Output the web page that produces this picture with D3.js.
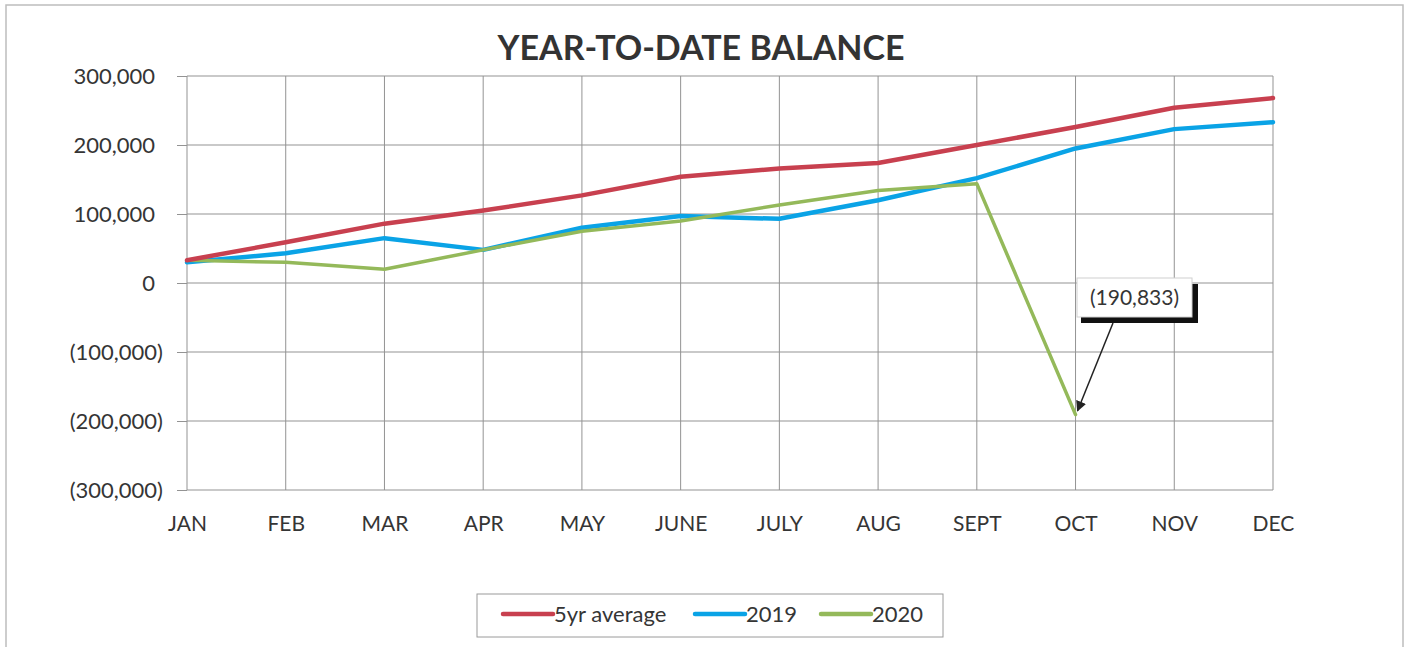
<!DOCTYPE html>
<html>
<head>
<meta charset="utf-8">
<script src="https://cdn.jsdelivr.net/npm/d3@7"></script>
<style>
  html, body { margin: 0; padding: 0; background: #fff; }
  svg { display: block; }
</style>
</head>
<body>
<svg id="chart" width="1411" height="647"></svg>
<script>
var months = ['JAN', 'FEB', 'MAR', 'APR', 'MAY', 'JUNE', 'JULY', 'AUG', 'SEPT', 'OCT', 'NOV', 'DEC'];
var avg5yr = [33000, 59000, 86000, 105000, 127000, 154000, 166000, 174000, 200000, 226000, 254000, 268000];
var y2019 = [30000, 43000, 65000, 48000, 80000, 97000, 93000, 120000, 152000, 195000, 223000, 233000];
var y2020 = [33000, 30000, 20000, 48000, 75000, 90000, 113000, 134000, 144000, -190833, null, null];
var yTicks = [-300000, -200000, -100000, 0, 100000, 200000, 300000];
var seriesNames = ['5yr average', '2019', '2020'];
var calloutIndex = 9;
var calloutLabel = '(190,833)';

var colors = ['#c8404f', '#0aa3e6', '#94b95a'];
var font = 'Lato, Calibri, "Open Sans", sans-serif';
var textColor = '#353535';

var svg = d3.select('#chart');

// outer chart frame
svg.append('rect')
  .attr('x', 6).attr('y', 5)
  .attr('width', 1397).attr('height', 660)
  .attr('fill', 'none')
  .attr('stroke', '#bdbdbd')
  .attr('stroke-width', 1.5);

var x = d3.scalePoint().domain(months).range([187, 1273]);
var y = d3.scaleLinear().domain([-300000, 300000]).range([490, 76]);

var grid = svg.append('g').attr('class', 'grid');
grid.selectAll('line.h')
  .data(yTicks)
  .enter().append('line')
  .attr('class', 'h')
  .attr('x1', x('JAN')).attr('x2', x('DEC'))
  .attr('y1', function (d) { return y(d); })
  .attr('y2', function (d) { return y(d); })
  .attr('stroke', '#939393')
  .attr('stroke-width', 1);
grid.selectAll('line.v')
  .data(months)
  .enter().append('line')
  .attr('class', 'v')
  .attr('x1', function (d) { return x(d); })
  .attr('x2', function (d) { return x(d); })
  .attr('y1', y(300000)).attr('y2', y(-300000))
  .attr('stroke', '#939393')
  .attr('stroke-width', 1);

var fmt = d3.format(',');
var yAxis = d3.axisLeft(y)
  .tickValues(yTicks)
  .tickSize(10)
  .tickPadding(14)
  .tickFormat(function (v) { return v < 0 ? '(' + fmt(-v) + ')' : fmt(v); });

var yg = svg.append('g')
  .attr('transform', 'translate(' + x('JAN') + ',0)')
  .call(yAxis);
yg.select('.domain').remove();
yg.selectAll('.tick line').attr('stroke', '#939393');
yg.selectAll('.tick text')
  .attr('dx', function (d) { return d < 0 ? 0 : -8; })
  .attr('fill', textColor)
  .attr('font-size', '22px')
  .attr('font-family', font);

var xAxis = d3.axisBottom(x).tickSize(0).tickPadding(26);
var xg = svg.append('g')
  .attr('transform', 'translate(0,' + y(-300000) + ')')
  .call(xAxis);
xg.select('.domain').remove();
xg.selectAll('.tick text')
  .attr('fill', textColor)
  .attr('font-size', '21px')
  .attr('font-family', font);

// series lines: 2019 first, then 2020, average on top
var allSeries = [avg5yr, y2019, y2020];
var line = d3.line()
  .defined(function (d) { return d != null; })
  .x(function (d, i) { return x(months[i]); })
  .y(function (d) { return y(d); });

[1, 2, 0].forEach(function (s) {
  svg.append('path')
    .attr('d', line(allSeries[s]))
    .attr('fill', 'none')
    .attr('stroke', colors[s])
    .attr('stroke-width', s === 2 ? 3.5 : 4.5)
    .attr('stroke-linejoin', 'round')
    .attr('stroke-linecap', 'round');
});

// title
svg.append('text')
  .attr('x', 701)
  .attr('y', 60)
  .attr('text-anchor', 'middle')
  .attr('fill', '#333')
  .attr('font-size', '34px')
  .attr('font-weight', 'bold')
  .attr('font-family', font)
  .text('YEAR-TO-DATE BALANCE');

// callout for the october value
var px = x(months[calloutIndex]);
var py = y(y2020[calloutIndex]);
var box = { x: 1077, y: 278, w: 115, h: 39 };

svg.append('defs').append('marker')
  .attr('id', 'arrow')
  .attr('viewBox', '0 0 10 10')
  .attr('refX', 9).attr('refY', 5)
  .attr('markerWidth', 7).attr('markerHeight', 7)
  .attr('orient', 'auto')
  .append('path')
  .attr('d', 'M0,0L10,5L0,10z')
  .attr('fill', '#222');

svg.append('line')
  .attr('x1', 1113).attr('y1', box.y + box.h + 6)
  .attr('x2', px + 2).attr('y2', py - 4)
  .attr('stroke', '#222')
  .attr('stroke-width', 1.5)
  .attr('marker-end', 'url(#arrow)');

svg.append('rect')
  .attr('x', box.x + 4).attr('y', box.y + 6)
  .attr('width', box.w + 2).attr('height', box.h)
  .attr('fill', '#111');
svg.append('rect')
  .attr('x', box.x).attr('y', box.y)
  .attr('width', box.w).attr('height', box.h)
  .attr('fill', '#fff')
  .attr('stroke', '#d0d0d0')
  .attr('stroke-width', 1);
svg.append('text')
  .attr('x', box.x + box.w / 2)
  .attr('y', box.y + box.h / 2)
  .attr('dy', '0.36em')
  .attr('text-anchor', 'middle')
  .attr('fill', textColor)
  .attr('font-size', '21px')
  .attr('font-family', font)
  .text(calloutLabel);

// legend
var legend = svg.append('g');
legend.append('rect')
  .attr('x', 477).attr('y', 594)
  .attr('width', 466).attr('height', 43)
  .attr('fill', '#fff')
  .attr('stroke', '#9a9a9a')
  .attr('stroke-width', 1);
var legendX = [503, 695, 821];
seriesNames.forEach(function (name, i) {
  legend.append('line')
    .attr('x1', legendX[i]).attr('x2', legendX[i] + 50)
    .attr('y1', 614).attr('y2', 614)
    .attr('stroke', colors[i])
    .attr('stroke-width', 4.5)
    .attr('stroke-linecap', 'round');
  legend.append('text')
    .attr('x', legendX[i] + 51)
    .attr('y', 614)
    .attr('dy', '0.36em')
    .attr('fill', textColor)
    .attr('font-size', '22px')
    .attr('font-family', font)
    .text(name);
});
</script>
</body>
</html>
